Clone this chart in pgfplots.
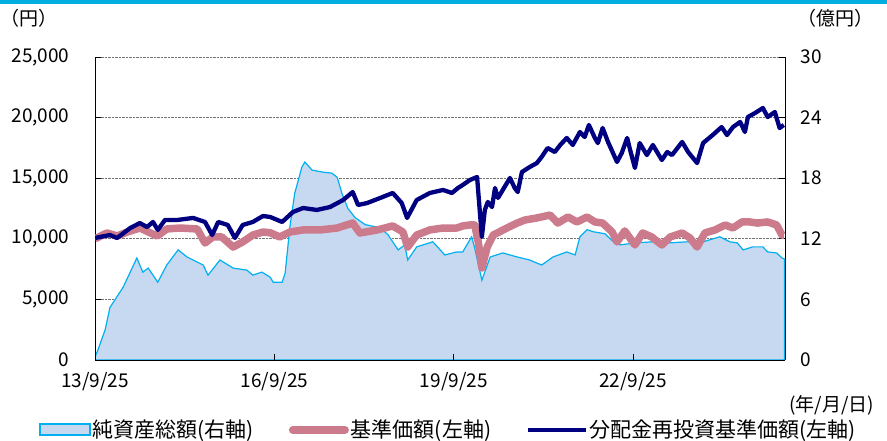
\documentclass[border=0pt]{standalone}
\usepackage{pgfplots}
\usepackage{pgfplotstable}
\pgfplotsset{compat=1.18}
\usepackage{fontspec}
\setmainfont{Noto Sans CJK JP}

\definecolor{areafill}{RGB}{198,217,240}
\definecolor{arealine}{RGB}{0,176,240}
\definecolor{navpink}{RGB}{204,123,140}
\definecolor{navnavy}{RGB}{0,0,128}
\definecolor{topbar}{RGB}{0,174,226}

% x = years since 13/9/25
\pgfplotstableread{
x y
0.00 0.3
0.05 1.0
0.17 3.0
0.25 5.2
0.47 7.2
0.70 10.1
0.80 8.7
0.89 9.1
1.05 7.7
1.20 9.4
1.39 10.9
1.54 10.2
1.81 9.4
1.89 8.4
2.09 9.9
2.31 9.1
2.54 8.9
2.64 8.4
2.79 8.7
2.93 8.2
2.98 7.7
3.13 7.7
3.18 8.6
3.26 13.2
3.34 16.5
3.46 19.1
3.51 19.6
3.63 18.8
3.81 18.6
3.96 18.5
4.05 18.1
4.13 16.5
4.23 15.0
4.35 14.1
4.52 13.4
4.77 13.1
4.90 12.4
5.07 10.9
5.18 11.4
5.23 9.9
5.38 11.2
5.65 11.7
5.85 10.4
6.05 10.7
6.15 10.7
6.30 12.2
6.35 11.1
6.47 7.9
6.61 10.2
6.82 10.6
7.06 10.2
7.27 9.9
7.47 9.4
7.66 10.2
7.89 10.7
8.03 10.4
8.11 12.2
8.23 12.9
8.33 12.7
8.53 12.5
8.65 11.8
8.78 11.4
9.06 11.6
9.33 11.7
9.62 11.6
9.90 11.7
10.12 11.6
10.28 11.9
10.45 12.2
10.62 11.7
10.74 11.6
10.84 10.9
11.00 11.2
11.17 11.2
11.25 10.7
11.40 10.6
11.49 10.1
11.53 10.0
}\netassets

\pgfplotstableread{
x y
0.00 10000
0.20 10480
0.37 10230
0.54 10560
0.75 10890
1.04 10230
1.20 10810
1.42 10890
1.71 10810
1.84 9650
1.97 10150
2.12 10150
2.31 9320
2.47 9740
2.64 10310
2.81 10560
2.93 10500
3.09 10150
3.26 10560
3.48 10730
3.76 10730
4.05 10890
4.31 11300
4.43 10480
4.72 10730
4.98 11060
5.15 10560
5.23 9320
5.38 10310
5.60 10730
5.82 10890
6.05 10890
6.15 11060
6.27 11140
6.35 11140
6.41 9740
6.47 7590
6.56 9320
6.66 10310
6.89 10890
7.06 11300
7.19 11550
7.39 11720
7.61 11960
7.74 11300
7.91 11800
8.06 11390
8.23 11800
8.36 11390
8.49 11300
8.65 10560
8.73 9740
8.86 10650
9.03 9490
9.16 10480
9.31 10150
9.48 9490
9.62 10150
9.82 10480
9.95 10070
10.07 9320
10.20 10480
10.37 10730
10.54 11140
10.67 10890
10.82 11390
10.95 11390
11.08 11300
11.25 11390
11.40 11140
11.49 10310
11.52 10310
}\nav

\pgfplotstableread{
x y
0.00 10070
0.25 10310
0.37 10070
0.59 10890
0.75 11300
0.87 10970
0.97 11390
1.05 10730
1.17 11550
1.37 11550
1.64 11720
1.84 11390
1.96 10310
2.06 11390
2.22 11140
2.34 10070
2.47 11140
2.64 11390
2.81 11880
2.93 11800
3.13 11390
3.31 12210
3.48 12540
3.71 12380
3.93 12620
4.15 13200
4.31 13860
4.40 12790
4.55 12950
4.77 13370
4.98 13780
5.13 12950
5.22 11720
5.38 13200
5.60 13780
5.82 14030
5.97 13780
6.07 14190
6.15 14440
6.27 14850
6.39 15100
6.47 10150
6.52 12380
6.57 13040
6.64 12620
6.69 14190
6.74 13370
6.82 14030
6.94 15020
7.02 14190
7.07 13860
7.14 15510
7.27 15920
7.39 16250
7.47 16750
7.57 17490
7.69 17160
7.78 17740
7.89 18320
7.99 17740
8.11 18810
8.19 18400
8.26 19390
8.36 18320
8.41 17900
8.49 19140
8.58 17990
8.73 16340
8.81 17080
8.90 18320
8.95 17330
9.03 15840
9.11 17900
9.23 16910
9.33 17740
9.48 16500
9.57 17160
9.65 16910
9.82 17990
9.92 17160
10.07 16250
10.17 17900
10.33 18560
10.48 19220
10.57 18560
10.67 19220
10.79 19640
10.87 18810
10.92 20050
11.04 20380
11.17 20790
11.25 20050
11.37 20460
11.45 19140
11.52 19390
}\navreinv

\begin{document}
\fontsize{19pt}{22pt}\selectfont
\begin{tikzpicture}
\useasboundingbox (0pt,0pt) rectangle (887pt,441pt);
\fill[topbar] (0pt,437pt) rectangle (887pt,441pt);

\pgfplotsset{base/.style={
    width=690pt, height=303pt, scale only axis,
    at={(95pt,81pt)}, anchor=south west,
    xmin=0, xmax=11.54,
    xtick={0,3,6,9},
    xticklabels={13/9/25,16/9/25,19/9/25,22/9/25},
    tick align=inside,
    major tick length=6pt,
    tick style={black, line width=0.8pt},
    axis line style={-, black, line width=0.9pt},
    tick label style={font=\fontsize{19pt}{22pt}\selectfont},
    /pgf/number format/assume math mode=true,
    xticklabel style={yshift=-6pt},
}}

% right axis: net assets (area) + grid
\begin{axis}[base,
    ymin=0, ymax=30, ytick={0,6,...,30},
    axis y line*=right, axis x line=none,
    ymajorgrids,
    major grid style={densely dotted, black!55, line width=0.8pt},
    yticklabel style={xshift=9pt},
]
\addplot[fill=areafill, draw=arealine, line width=1.2pt] table[x=x,y=y] {\netassets} \closedcycle;
\end{axis}

% left axis: NAV lines
\begin{axis}[base,
    ymin=0, ymax=25000, ytick={0,5000,...,25000},
    axis y line*=left, axis x line*=bottom,
    scaled y ticks=false,
    yticklabel style={xshift=-19pt, /pgf/number format/.cd, 1000 sep={,}},
    legend columns=3,
    legend style={at={(0.512,-0.231)}, anchor=center, draw=none, fill=none,
        font=\fontsize{21pt}{24pt}\selectfont,
        /tikz/every even column/.append style={column sep=33pt}},
    legend cell align=left,
]
\addlegendimage{legend image code/.code={
    \draw[fill=areafill, draw=arealine, line width=2pt] (0pt,-5.5pt) rectangle (50pt,5.5pt);}}
\addlegendentry{純資産総額(右軸)}
\addlegendimage{legend image code/.code={
    \draw[navpink, line width=8pt, line cap=round] (4pt,0pt) -- (56pt,0pt);}}
\addlegendentry{基準価額(左軸)}
\addlegendimage{legend image code/.code={
    \draw[navnavy, line width=3.5pt] (0pt,0pt) -- (58pt,0pt);}}
\addlegendentry{分配金再投資基準価額(左軸)}

\addplot[forget plot, navpink, line width=7.5pt, line join=round] table[x=x,y=y] {\nav};
\addplot[forget plot, navnavy, line width=4.3pt, line join=round] table[x=x,y=y] {\navreinv};
\end{axis}

\node[anchor=west, inner sep=0pt] at (0pt,423pt) {（円）};
\node[anchor=west, inner sep=0pt] at (797pt,423pt) {（億円）};
\node[anchor=west, inner sep=0pt] at (789pt,36pt) {(年/月/日)};
\end{tikzpicture}
\end{document}
